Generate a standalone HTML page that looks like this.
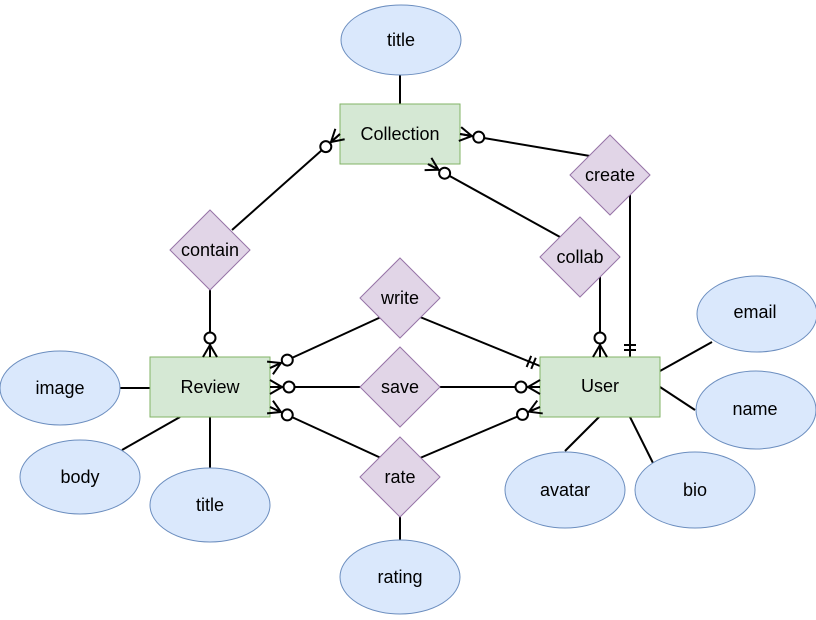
<!DOCTYPE html>
<html><head><style>
body{margin:0;background:#fff;}
svg{display:block;font-family:"Liberation Sans",Arial,sans-serif;}
text{font-size:18px;text-anchor:middle;dominant-baseline:central;fill:#000;}
</style></head><body>
<svg id="s" width="816" height="620" viewBox="0 0 816 620" xmlns="http://www.w3.org/2000/svg">
<g stroke="#000" stroke-width="2" fill="none" id="lines">
<line x1="400" y1="75" x2="400" y2="104"/>
<line x1="232" y1="230" x2="340" y2="134"/>
<line x1="210" y1="290" x2="210" y2="357"/>
<line x1="460" y1="134" x2="590" y2="156"/>
<line x1="428" y1="164" x2="560" y2="237"/>
<line x1="630" y1="195" x2="630" y2="357"/>
<line x1="600" y1="277" x2="600" y2="357"/>
<line x1="270" y1="368" x2="381" y2="317"/>
<line x1="420" y1="317" x2="540" y2="366"/>
<line x1="270" y1="387" x2="360" y2="387"/>
<line x1="440" y1="387" x2="540" y2="387"/>
<line x1="270" y1="407" x2="381" y2="458"/>
<line x1="420" y1="458" x2="540" y2="407"/>
<line x1="120" y1="388" x2="150" y2="388"/>
<line x1="180" y1="417" x2="122" y2="450"/>
<line x1="210" y1="417" x2="210" y2="470"/>
<line x1="660" y1="371" x2="712" y2="342"/>
<line x1="660" y1="387" x2="695" y2="410"/>
<line x1="599" y1="417" x2="565" y2="451"/>
<line x1="630" y1="417" x2="653" y2="463"/>
<line x1="400" y1="497" x2="400" y2="542"/>
</g>
<g stroke="#6c8ebf" fill="#dae8fc">
<ellipse cx="401" cy="40" rx="60" ry="35"/>
<ellipse cx="757" cy="314" rx="60" ry="38"/>
<ellipse cx="756" cy="410" rx="60" ry="39"/>
<ellipse cx="60" cy="388" rx="60" ry="37"/>
<ellipse cx="80" cy="477" rx="60" ry="37"/>
<ellipse cx="210" cy="505" rx="60" ry="37"/>
<ellipse cx="565" cy="490" rx="60" ry="38"/>
<ellipse cx="695" cy="490" rx="60" ry="38"/>
<ellipse cx="400" cy="577" rx="60" ry="37"/>
</g>
<g stroke="#82b366" fill="#d5e8d4">
<rect x="340" y="104" width="120" height="60"/>
<rect x="150" y="357" width="120" height="60"/>
<rect x="540" y="357" width="120" height="60"/>
</g>
<g stroke="#9673a6" fill="#e1d5e7">
<polygon points="210,210 250,250 210,290 170,250"/>
<polygon points="400,258 440,298 400,338 360,298"/>
<polygon points="400,347 440,387 400,427 360,387"/>
<polygon points="400,437 440,477 400,517 360,477"/>
<polygon points="610,135 650,175 610,215 570,175"/>
<polygon points="580,217 620,257 580,297 540,257"/>
</g>
<g id="marks" stroke="#000" stroke-width="2" fill="#fff"></g>
<text x="401" y="40">title</text>
<text x="400" y="134">Collection</text>
<text x="210" y="387">Review</text>
<text x="600" y="386">User</text>
<text x="210" y="250">contain</text>
<text x="400" y="298">write</text>
<text x="400" y="387">save</text>
<text x="400" y="477">rate</text>
<text x="610" y="175">create</text>
<text x="580" y="257">collab</text>
<text x="755" y="312">email</text>
<text x="755" y="409">name</text>
<text x="60" y="388">image</text>
<text x="80" y="477">body</text>
<text x="210" y="505">title</text>
<text x="565" y="490">avatar</text>
<text x="695" y="490">bio</text>
<text x="400" y="577">rating</text>
</svg>
<script>
var g=document.getElementById('marks'),NS='http://www.w3.org/2000/svg';
function el(t,a){var e=document.createElementNS(NS,t);for(var k in a)e.setAttribute(k,a[k]);g.appendChild(e);}
function many(ex,ey,ox,oy){var dx=ox-ex,dy=oy-ey,L=Math.hypot(dx,dy),ux=dx/L,uy=dy/L,px=-uy,py=ux;
var tx=ex+ux*12,ty=ey+uy*12;
[-7,0,7].forEach(function(s){el('line',{x1:tx,y1:ty,x2:ex+px*s,y2:ey+py*s,fill:'none'});});
el('circle',{cx:ex+ux*19,cy:ey+uy*19,r:5.5});}
function one(ex,ey,ox,oy){var dx=ox-ex,dy=oy-ey,L=Math.hypot(dx,dy),ux=dx/L,uy=dy/L,px=-uy,py=ux;
[7,12].forEach(function(d){var cx=ex+ux*d,cy=ey+uy*d;el('line',{x1:cx+px*6,y1:cy+py*6,x2:cx-px*6,y2:cy-py*6});});}
many(340,134,232,230);
many(210,357,210,290);
many(460,134,590,156);
many(428,164,560,237);
many(600,357,600,277);
many(270,368,381,317);
many(270,387,360,387);
many(270,407,381,458);
many(540,387,440,387);
many(540,407,420,458);
one(630,357,630,195);
one(540,366,420,317);
</script>
</body></html>
